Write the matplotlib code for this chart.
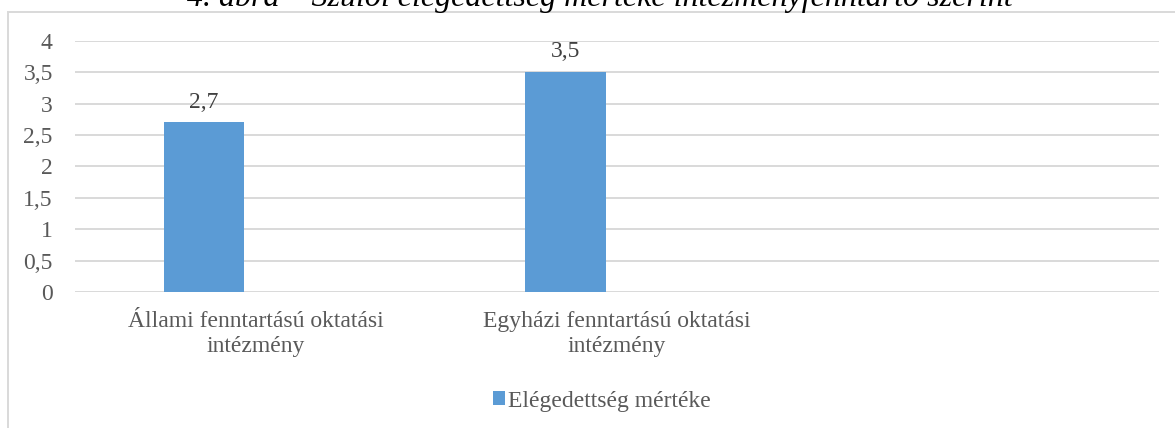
import matplotlib.pyplot as plt
from matplotlib.patches import Rectangle
import numpy as np

plt.rcParams['font.family'] = ['Liberation Serif', 'DejaVu Serif']

# data
categories = ['Állami fenntartású oktatási\nintézmény', 'Egyházi fenntartású oktatási\nintézmény', '']
values = [2.7, 3.5, np.nan]
value_labels = ['2,7', '3,5', '']
series_name = 'Elégedettség mértéke'
yticks = [0, 0.5, 1, 1.5, 2, 2.5, 3, 3.5, 4]
ytick_labels = ['0', '0,5', '1', '1,5', '2', '2,5', '3', '3,5', '4']
title = '4. ábra – Szülői elégedettség mértéke intézményfenntartó szerint'

W, H = 1175, 428
fig = plt.figure(figsize=(W / 100, H / 100), dpi=100)
ax = fig.add_axes([75 / W, 1 - 292 / H, 1084 / W, 251.3 / H])

bar_color = '#5b9bd5'
grid_color = '#d9d9d9'
text_color = '#595959'
fs = 17

x = np.arange(len(categories))
bars = ax.bar(x - 0.143, values, width=0.224, color=bar_color, zorder=3, label=series_name)
for xi, v, lab in zip(x, values, value_labels):
    if lab:
        ax.annotate(lab, (xi - 0.143, v), xytext=(0, 7), textcoords='offset points',
                    ha='center', va='bottom', fontsize=fs, color='#404040')

ax.set_xlim(-0.5, 2.5)
ax.set_ylim(0, 4)
ax.set_yticks(yticks)
ax.set_yticklabels(ytick_labels, fontsize=fs, color=text_color)
ax.set_xticks(x)
ax.set_xticklabels(categories, fontsize=fs, color=text_color, linespacing=1.2)
ax.tick_params(axis='both', length=0)
ax.tick_params(axis='y', pad=16)
ax.tick_params(axis='x', pad=14)
ax.grid(axis='y', color=grid_color, linewidth=1.4, zorder=0)
for s in ax.spines.values():
    s.set_visible(False)
ax.set_axisbelow(True)

leg = fig.legend(handles=[bars], labels=[series_name], loc='center', bbox_to_anchor=(602 / W, 1 - 401 / H),
                 frameon=False, fontsize=fs, handlelength=0.5, handleheight=0.5, handletextpad=0.15)
for t in leg.get_texts():
    t.set_color(text_color)

# outer chart frame
fig.patches.append(Rectangle((7.5 / W, -0.1), 1.2, 1 - 11.5 / H + 0.1, transform=fig.transFigure,
                             fill=False, edgecolor=grid_color, linewidth=1.4))

fig.text(600 / W, 1 - 6 / H, title, ha='center', va='baseline', fontsize=23, style='italic', color='black')

fig.savefig('out.png', dpi=100)
